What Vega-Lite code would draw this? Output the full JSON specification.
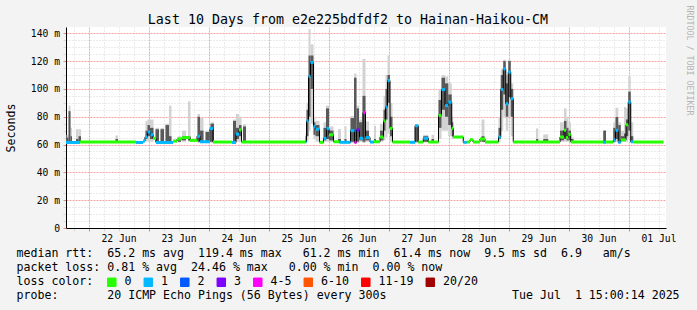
{
  "$schema": "https://vega.github.io/schema/vega-lite/v6.json",
  "width": 600,
  "height": 201,
  "autosize": {"type": "none"},
  "padding": {"left": 66, "top": 27, "right": 31, "bottom": 82},
  "background": "#f3f3f3",
  "title": {
    "text": "Last 10 Days from e2e225bdfdf2 to Hainan-Haikou-CM",
    "font": "DejaVu Sans Mono", "fontSize": 13.3, "fontWeight": "normal", "color": "#000000",
    "anchor": "middle", "frame": "group", "dx": -18, "dy": 36.5, "offset": 4, "baseline": "alphabetic"
  },
  "datasets": {
    "smoke": [
      {"t":0.2,"t2":1.0,"mn":61,"lo":62,"hi":65,"mx":67},
      {"t":1.0,"t2":1.8,"mn":61,"lo":62,"hi":84,"mx":88},
      {"t":1.8,"t2":2.4,"mn":61,"lo":62,"hi":66,"mx":72},
      {"t":4.0,"t2":5.0,"mn":61.5,"lo":62,"hi":64,"mx":71},
      {"t":5.0,"t2":6.0,"mn":61.5,"lo":62,"hi":66,"mx":71},
      {"t":19.8,"t2":20.8,"mn":61.5,"lo":62,"hi":64,"mx":66.5},
      {"t":31.8,"t2":32.6,"mn":62,"lo":64,"hi":70,"mx":77},
      {"t":32.6,"t2":33.6,"mn":62,"lo":66,"hi":74,"mx":78},
      {"t":33.6,"t2":35.0,"mn":62,"lo":64,"hi":72,"mx":78},
      {"t":35.8,"t2":37.2,"mn":61,"lo":62,"hi":71,"mx":72},
      {"t":37.8,"t2":39.2,"mn":61,"lo":62,"hi":71,"mx":72},
      {"t":39.8,"t2":41.2,"mn":61,"lo":62,"hi":74,"mx":75},
      {"t":41.2,"t2":42.2,"mn":61,"lo":62,"hi":66,"mx":88},
      {"t":44.8,"t2":46.0,"mn":61.5,"lo":62,"hi":64,"mx":66},
      {"t":46.4,"t2":48.0,"mn":62,"lo":63,"hi":66,"mx":70},
      {"t":48.8,"t2":49.8,"mn":62,"lo":63,"hi":66,"mx":91},
      {"t":52.6,"t2":53.6,"mn":61,"lo":62,"hi":80,"mx":82},
      {"t":53.6,"t2":55.0,"mn":61,"lo":62,"hi":70,"mx":79},
      {"t":55.8,"t2":57.2,"mn":61,"lo":62,"hi":69,"mx":70},
      {"t":57.8,"t2":59.2,"mn":61,"lo":62,"hi":75,"mx":76},
      {"t":66.8,"t2":68.0,"mn":61,"lo":62,"hi":77,"mx":78},
      {"t":68.0,"t2":69.2,"mn":62,"lo":64,"hi":72,"mx":82},
      {"t":69.2,"t2":70.2,"mn":62,"lo":66,"hi":74,"mx":80},
      {"t":70.8,"t2":72.0,"mn":61,"lo":62,"hi":73,"mx":74.5},
      {"t":95.8,"t2":96.2,"mn":61,"lo":62,"hi":66,"mx":68},
      {"t":96.2,"t2":97.0,"mn":62,"lo":66,"hi":85,"mx":90},
      {"t":97.0,"t2":97.8,"mn":70,"lo":80,"hi":124,"mx":143},
      {"t":97.8,"t2":99.0,"mn":75,"lo":100,"hi":124,"mx":132},
      {"t":99.0,"t2":99.8,"mn":64,"lo":67,"hi":76,"mx":80},
      {"t":99.8,"t2":101.4,"mn":62,"lo":66,"hi":74,"mx":77},
      {"t":103.0,"t2":104.0,"mn":62,"lo":63,"hi":72,"mx":76},
      {"t":104.0,"t2":105.2,"mn":62,"lo":64,"hi":86,"mx":88},
      {"t":105.2,"t2":107.0,"mn":62,"lo":63,"hi":70,"mx":73},
      {"t":108.8,"t2":110.0,"mn":61.5,"lo":62,"hi":64,"mx":71},
      {"t":111.4,"t2":112.2,"mn":61.5,"lo":62,"hi":64,"mx":73},
      {"t":113.8,"t2":115.2,"mn":61,"lo":62,"hi":79,"mx":80.5},
      {"t":115.2,"t2":116.2,"mn":61,"lo":62,"hi":108,"mx":111},
      {"t":116.2,"t2":117.2,"mn":61,"lo":62,"hi":86,"mx":88},
      {"t":117.2,"t2":118.6,"mn":62,"lo":63,"hi":76,"mx":78},
      {"t":118.6,"t2":119.8,"mn":61,"lo":62,"hi":95,"mx":121.5},
      {"t":119.8,"t2":121.2,"mn":62,"lo":63,"hi":70,"mx":76.6},
      {"t":123.2,"t2":124.0,"mn":61.5,"lo":62,"hi":64,"mx":73.5},
      {"t":125.6,"t2":127.0,"mn":62,"lo":63,"hi":70,"mx":75},
      {"t":127.0,"t2":127.8,"mn":63,"lo":70,"hi":85,"mx":95},
      {"t":127.8,"t2":128.6,"mn":65,"lo":78,"hi":100,"mx":110},
      {"t":128.6,"t2":129.6,"mn":68,"lo":90,"hi":110,"mx":124},
      {"t":129.6,"t2":130.6,"mn":62,"lo":66,"hi":80,"mx":90},
      {"t":139.6,"t2":140.9,"mn":61,"lo":62,"hi":73.5,"mx":74.5},
      {"t":142.9,"t2":144.9,"mn":61.5,"lo":62,"hi":66,"mx":67},
      {"t":146.2,"t2":147.2,"mn":61.5,"lo":62,"hi":64,"mx":67},
      {"t":149.0,"t2":150.2,"mn":64,"lo":72,"hi":92,"mx":100},
      {"t":150.2,"t2":151.6,"mn":70,"lo":85,"hi":108,"mx":110},
      {"t":151.6,"t2":152.9,"mn":70,"lo":80,"hi":104,"mx":109},
      {"t":152.9,"t2":154.3,"mn":66,"lo":74,"hi":96,"mx":104},
      {"t":154.3,"t2":154.9,"mn":64,"lo":66,"hi":76,"mx":80},
      {"t":166.2,"t2":167.4,"mn":61.5,"lo":62,"hi":66,"mx":78},
      {"t":173.0,"t2":173.9,"mn":62,"lo":64,"hi":72,"mx":80},
      {"t":173.9,"t2":174.9,"mn":70,"lo":85,"hi":110,"mx":114},
      {"t":174.9,"t2":175.9,"mn":80,"lo":96,"hi":120,"mx":121},
      {"t":175.9,"t2":176.9,"mn":70,"lo":80,"hi":104,"mx":110},
      {"t":176.9,"t2":177.9,"mn":80,"lo":94,"hi":120,"mx":121},
      {"t":177.9,"t2":178.9,"mn":66,"lo":80,"hi":100,"mx":104},
      {"t":188.0,"t2":188.9,"mn":61.5,"lo":62,"hi":64,"mx":71.6},
      {"t":190.9,"t2":192.9,"mn":61.5,"lo":62,"hi":64,"mx":67.3},
      {"t":197.6,"t2":199.2,"mn":62,"lo":63,"hi":70,"mx":76},
      {"t":199.2,"t2":200.2,"mn":62,"lo":64,"hi":77,"mx":86},
      {"t":200.2,"t2":201.0,"mn":62,"lo":63,"hi":72,"mx":80},
      {"t":201.0,"t2":202.0,"mn":62,"lo":63,"hi":70,"mx":76},
      {"t":202.0,"t2":203.0,"mn":61.5,"lo":62,"hi":64,"mx":65},
      {"t":214.9,"t2":216.0,"mn":61,"lo":62,"hi":70,"mx":70.2},
      {"t":218.9,"t2":219.8,"mn":61,"lo":62,"hi":72,"mx":76},
      {"t":219.8,"t2":220.9,"mn":62,"lo":64,"hi":79.8,"mx":86.4},
      {"t":220.9,"t2":221.9,"mn":61,"lo":62,"hi":74,"mx":76},
      {"t":221.9,"t2":223.2,"mn":62,"lo":63,"hi":66,"mx":70},
      {"t":223.2,"t2":224.0,"mn":62,"lo":63,"hi":68,"mx":87},
      {"t":224.0,"t2":224.9,"mn":62,"lo":66,"hi":78,"mx":86},
      {"t":224.9,"t2":225.9,"mn":64,"lo":70,"hi":98,"mx":109},
      {"t":225.9,"t2":226.9,"mn":61.5,"lo":62,"hi":66,"mx":76}
    ],
    "med": [
      {"t":0,"t2":5.6,"m":61.5,"c":"1"},
      {"t":5.6,"t2":28,"m":61.8,"c":"0"},
      {"t":28,"t2":30.8,"m":61.5,"c":"1"},
      {"t":30.8,"t2":31.6,"m":62.5,"c":"1"},
      {"t":31.6,"t2":32.6,"m":65.5,"c":"1"},
      {"t":32.6,"t2":33.8,"m":69,"c":"1"},
      {"t":33.8,"t2":34.8,"m":67,"c":"1"},
      {"t":34.8,"t2":36,"m":64.5,"c":"0"},
      {"t":36,"t2":42.8,"m":61.5,"c":"1"},
      {"t":42.8,"t2":44.4,"m":62.5,"c":"0"},
      {"t":44.4,"t2":46.4,"m":64,"c":"0"},
      {"t":46.4,"t2":49.6,"m":65,"c":"0"},
      {"t":49.6,"t2":52.4,"m":63,"c":"0"},
      {"t":52.4,"t2":53.6,"m":66,"c":"1"},
      {"t":53.6,"t2":57.6,"m":62,"c":"1"},
      {"t":57.6,"t2":58.8,"m":71.5,"c":"1"},
      {"t":58.8,"t2":66.4,"m":61.8,"c":"0"},
      {"t":66.4,"t2":68,"m":61.5,"c":"1"},
      {"t":68,"t2":69.2,"m":67.5,"c":"1"},
      {"t":69.2,"t2":70.2,"m":70.5,"c":"0"},
      {"t":70.2,"t2":95.6,"m":61.8,"c":"0"},
      {"t":95.6,"t2":96.2,"m":62,"c":"1"},
      {"t":96.2,"t2":97,"m":77,"c":"1"},
      {"t":97,"t2":97.8,"m":109,"c":"1"},
      {"t":97.8,"t2":99,"m":119,"c":"1"},
      {"t":99,"t2":99.8,"m":73,"c":"1"},
      {"t":99.8,"t2":101.4,"m":71,"c":"1"},
      {"t":101.4,"t2":103,"m":61.6,"c":"0"},
      {"t":103,"t2":104.2,"m":64.5,"c":"1"},
      {"t":104.2,"t2":105.2,"m":71.5,"c":"1"},
      {"t":105.2,"t2":107,"m":67,"c":"0"},
      {"t":107,"t2":109.4,"m":62,"c":"0"},
      {"t":109.4,"t2":113.8,"m":61.6,"c":"1"},
      {"t":113.8,"t2":115.4,"m":70,"c":"1"},
      {"t":115.4,"t2":116.2,"m":61.5,"c":"4-5"},
      {"t":116.2,"t2":117.4,"m":70.5,"c":"3"},
      {"t":117.4,"t2":118.8,"m":64.5,"c":"1"},
      {"t":118.8,"t2":119.8,"m":83,"c":"4-5"},
      {"t":119.8,"t2":121.6,"m":65,"c":"1"},
      {"t":121.6,"t2":123.2,"m":61.8,"c":"1"},
      {"t":123.2,"t2":125.6,"m":62,"c":"0"},
      {"t":125.6,"t2":127,"m":65.4,"c":"0"},
      {"t":127,"t2":127.8,"m":77,"c":"0"},
      {"t":127.8,"t2":128.6,"m":87,"c":"1"},
      {"t":128.6,"t2":129.6,"m":106,"c":"1"},
      {"t":129.6,"t2":130.6,"m":71.6,"c":"0"},
      {"t":130.6,"t2":137.6,"m":61.8,"c":"0"},
      {"t":137.6,"t2":139.6,"m":61.6,"c":"1"},
      {"t":139.6,"t2":140.9,"m":73.5,"c":"1"},
      {"t":140.9,"t2":142.9,"m":61.8,"c":"0"},
      {"t":142.9,"t2":144.9,"m":64.5,"c":"1"},
      {"t":144.9,"t2":149,"m":61.8,"c":"0"},
      {"t":149,"t2":150.2,"m":81,"c":"0"},
      {"t":150.2,"t2":151.6,"m":99.5,"c":"1"},
      {"t":151.6,"t2":152.9,"m":88,"c":"1"},
      {"t":152.9,"t2":154.3,"m":90.5,"c":"1"},
      {"t":154.3,"t2":154.9,"m":71.6,"c":"0"},
      {"t":154.9,"t2":158.9,"m":65.4,"c":"0"},
      {"t":158.9,"t2":160.3,"m":61.6,"c":"1"},
      {"t":160.3,"t2":161.6,"m":61.8,"c":"0"},
      {"t":161.6,"t2":162.8,"m":63.5,"c":"0"},
      {"t":162.8,"t2":165.6,"m":61.8,"c":"0"},
      {"t":165.6,"t2":167.6,"m":64,"c":"0"},
      {"t":167.6,"t2":173,"m":61.8,"c":"0"},
      {"t":173,"t2":173.9,"m":65.4,"c":"1"},
      {"t":173.9,"t2":174.9,"m":99.6,"c":"1"},
      {"t":174.9,"t2":175.9,"m":114.4,"c":"1"},
      {"t":175.9,"t2":176.9,"m":89.3,"c":"1"},
      {"t":176.9,"t2":177.9,"m":112,"c":"1"},
      {"t":177.9,"t2":178.9,"m":93,"c":"1"},
      {"t":178.9,"t2":197.6,"m":61.8,"c":"0"},
      {"t":197.6,"t2":199.2,"m":65.4,"c":"0"},
      {"t":199.2,"t2":200,"m":70.2,"c":"0"},
      {"t":200,"t2":200.9,"m":65,"c":"0"},
      {"t":200.9,"t2":201.9,"m":67.3,"c":"0"},
      {"t":201.9,"t2":214.9,"m":61.8,"c":"0"},
      {"t":214.9,"t2":216,"m":61.6,"c":"1"},
      {"t":216,"t2":218.9,"m":61.8,"c":"0"},
      {"t":218.9,"t2":219.8,"m":63.3,"c":"1"},
      {"t":219.8,"t2":220.9,"m":70.2,"c":"1"},
      {"t":220.9,"t2":221.9,"m":61.6,"c":"1"},
      {"t":221.9,"t2":224,"m":63.3,"c":"0"},
      {"t":224,"t2":224.9,"m":74.2,"c":"0"},
      {"t":224.9,"t2":225.9,"m":90.5,"c":"1"},
      {"t":225.9,"t2":226.9,"m":62,"c":"1"},
      {"t":226.9,"t2":239,"m":61.8,"c":"0"}
    ]
  },
  "encoding": {
    "x": {
      "field": "t", "type": "quantitative",
      "scale": {"domain": [0, 240], "nice": false, "zero": false},
      "axis": {
        "values": [3,9,15,21,27,33,39,45,51,57,63,69,75,81,87,93,99,105,111,117,123,129,135,141,147,153,159,165,171,177,183,189,195,201,207,213,219,225,231,237],
        "labelExpr": "(datum.value - 21) % 24 == 0 ? ['22 Jun','23 Jun','24 Jun','25 Jun','26 Jun','27 Jun','28 Jun','29 Jun','30 Jun','01 Jul'][(datum.value - 21) / 24] : ''",
        "labelFont": "DejaVu Sans Mono", "labelFontSize": 9.7, "labelColor": "#000000",
        "labelOverlap": false, "labelFlush": false, "labelBound": false, "labelPadding": 2,
        "tickSize": 3,
        "tickColor": {"condition": {"test": "(datum.value - 9) % 24 == 0", "value": "#f08080"}, "value": "#d8d8d8"},
        "domainColor": "#000000", "domainWidth": 1,
        "grid": true,
        "gridColor": {"condition": {"test": "(datum.value - 9) % 24 == 0", "value": "#f4a4a4"}, "value": "#d6d6d6"},
        "gridDash": {"condition": {"test": "(datum.value - 9) % 24 == 0", "value": [2, 1]}, "value": [1, 2]},
        "gridWidth": 1, "gridOpacity": 1,
        "title": [
          "median rtt:\u00a0\u00a065.2 ms avg\u00a0\u00a0119.4 ms max\u00a0\u00a0\u00a061.2 ms min\u00a0\u00a061.4 ms now\u00a0\u00a09.5 ms sd\u00a0\u00a06.9\u00a0\u00a0\u00a0am/s",
          "packet loss: 0.81 % avg\u00a0\u00a024.46 % max\u00a0\u00a0\u00a00.00 % min\u00a0\u00a00.00 % now",
          "loss color:",
          "probe:\u00a0\u00a0\u00a0\u00a0\u00a0\u00a0\u00a020 ICMP Echo Pings (56 Bytes) every 300s\u00a0\u00a0\u00a0\u00a0\u00a0\u00a0\u00a0\u00a0\u00a0\u00a0\u00a0\u00a0\u00a0\u00a0\u00a0\u00a0\u00a0\u00a0Tue Jul\u00a0\u00a01 15:00:14 2025"
        ],
        "titleFont": "DejaVu Sans Mono", "titleFontSize": 11.6, "titleFontWeight": "normal", "titleColor": "#000000",
        "titleAnchor": "start", "titleAlign": "left", "titleBaseline": "top",
        "titleX": -50, "titleY": 19, "titleLineHeight": 14.2
      }
    }
  },
  "layer": [
    {
      "data": {"name": "smoke"},
      "mark": {"type": "rect", "color": "#d2d2d2"},
      "encoding": {
        "x2": {"field": "t2"},
        "y": {
          "field": "mn", "type": "quantitative",
          "scale": {"domain": [0, 144.5], "nice": false, "zero": true},
          "axis": {
            "values": [0,5,10,15,20,25,30,35,40,45,50,55,60,65,70,75,80,85,90,95,100,105,110,115,120,125,130,135,140],
            "labelExpr": "datum.value % 20 == 0 ? (datum.value == 0 ? '0' : datum.value + ' m') : ''",
            "labelFont": "DejaVu Sans Mono", "labelFontSize": 9.7, "labelColor": "#000000",
            "labelOverlap": false, "labelFlush": false, "labelBound": false, "labelPadding": 3.5,
            "tickSize": 3,
            "tickColor": {"condition": {"test": "datum.value % 20 == 0", "value": "#f08080"}, "value": "#d8d8d8"},
            "domainColor": "#000000", "domainWidth": 1,
            "grid": true,
            "gridColor": {"condition": {"test": "datum.value % 20 == 0", "value": "#f4a4a4"}, "value": "#d6d6d6"},
            "gridDash": {"condition": {"test": "datum.value % 20 == 0", "value": [2, 1]}, "value": [1, 2]},
            "gridWidth": 1, "gridOpacity": 1,
            "title": "Seconds",
            "titleFont": "DejaVu Sans Mono", "titleFontSize": 11.6, "titleFontWeight": "normal", "titleColor": "#000000",
            "titleAngle": 270, "titleX": -55, "titleY": 100.5, "titleAlign": "center", "titleBaseline": "middle"
          }
        },
        "y2": {"field": "mx"}
      }
    },
    {
      "data": {"name": "smoke"},
      "mark": {"type": "rect", "color": "#595959"},
      "encoding": {
        "x2": {"field": "t2"},
        "y": {"field": "lo", "type": "quantitative", "axis": null},
        "y2": {"field": "hi"}
      }
    },
    {
      "data": {"name": "med"},
      "mark": {"type": "line", "color": "#000000", "strokeWidth": 1, "interpolate": "step-after"},
      "encoding": {
        "y": {"field": "m", "type": "quantitative", "axis": null}
      }
    },
    {
      "data": {"name": "med"},
      "mark": {"type": "rule", "strokeWidth": 3},
      "encoding": {
        "x2": {"field": "t2"},
        "y": {
          "field": "m", "type": "quantitative",
          "axis": {
            "orient": "right", "labels": false, "ticks": false, "domain": false, "grid": false,
            "title": "RRDTOOL / TOBI OETIKER",
            "titleFont": "DejaVu Sans Mono", "titleFontSize": 8.3, "titleFontWeight": "normal", "titleColor": "#b4b4b4",
            "titleAngle": 90, "titleX": 22, "titleY": 33, "titleAlign": "center", "titleBaseline": "middle"
          }
        },
        "color": {
          "field": "c", "type": "nominal",
          "scale": {
            "domain": ["0", "1", "2", "3", "4-5", "6-10", "11-19", "20/20"],
            "range": ["#26ff00", "#00b8ff", "#0059ff", "#7e00ff", "#ff00ff", "#ff5500", "#ff0000", "#a10000"]
          },
          "legend": {
            "title": null, "orient": "none", "legendX": 40, "legendY": 249,
            "direction": "horizontal", "symbolType": "square", "symbolSize": 72,
            "labelFont": "DejaVu Sans Mono", "labelFontSize": 11.6, "labelColor": "#000000",
            "labelOffset": 7, "columnPadding": 9.5, "padding": 0, "labelLimit": 200,
            "encode": {
              "symbols": {
                "update": {
                  "fill": {"scale": "color", "field": "value"},
                  "stroke": {"value": "#000000"},
                  "strokeWidth": {"value": 1},
                  "opacity": {"value": 1}
                }
              }
            }
          }
        }
      }
    },
    {
      "data": {"values": [{"a": "top"}]},
      "mark": {"type": "point", "shape": "triangle-up", "filled": true, "fill": "#8b0000", "strokeWidth": 0, "size": 60, "opacity": 1, "clip": false},
      "encoding": {
        "x": {"datum": 0, "type": "quantitative"},
        "y": {"datum": 146, "type": "quantitative", "axis": null}
      }
    },
    {
      "data": {"values": [{"a": "right"}]},
      "mark": {"type": "point", "shape": "triangle-right", "filled": true, "fill": "#8b0000", "strokeWidth": 0, "size": 60, "opacity": 1, "clip": false},
      "encoding": {
        "x": {"datum": 241.5, "type": "quantitative"},
        "y": {"datum": 0, "type": "quantitative", "axis": null}
      }
    }
  ],
  "resolve": {"axis": {"y": "independent"}},
  "config": {
    "view": {"fill": "#ffffff", "stroke": null}
  }
}
